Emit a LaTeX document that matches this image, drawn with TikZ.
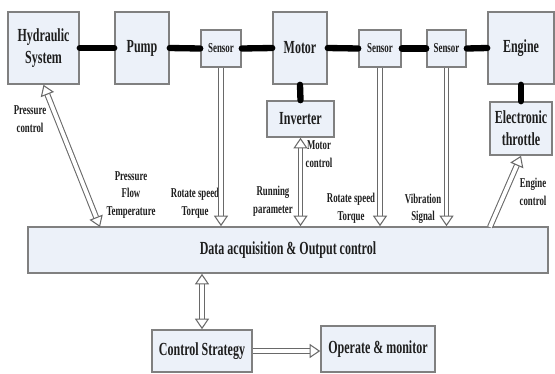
\documentclass[tikz,border=0pt]{standalone}
\usepackage{fontspec}
\setmainfont{Liberation Serif}[FakeStretch=0.65]
\usetikzlibrary{arrows.meta}
\definecolor{boxfill}{RGB}{236,241,249}
\definecolor{boxline}{RGB}{128,128,128}
\definecolor{arrline}{RGB}{105,105,105}
\definecolor{inkcol}{RGB}{30,30,30}

\begin{document}
\begin{tikzpicture}[x=0.02cm, y=-0.02cm,
    blk/.style={draw=boxline, fill=boxfill, line width=0.9pt, inner sep=0pt, align=center, text=inkcol, font=\fontsize{10.5}{12.5}\selectfont\bfseries},
    sensor/.style={blk, font=\fontsize{7.8}{9}\selectfont\bfseries},
    lbl/.style={align=center, inner sep=0pt, text=inkcol, font=\fontsize{7.7}{10}\selectfont\bfseries},
    shaft/.style={line width=3.6pt, line cap=round},
    sig/.style={draw=arrline, double=white, double distance=2.2pt, line width=0.6pt, -{Triangle[open, fill=white, length=6pt, width=8pt]}},
    sigboth/.style={sig, {Triangle[open, fill=white, length=6pt, width=8pt]}-{Triangle[open, fill=white, length=6pt, width=8pt]}}
]
    \useasboundingbox (0,0) rectangle (555,373);

    % Nodes
    \node[blk, minimum width=1.42cm, minimum height=1.44cm] at (43.5, 48)  (hyd)    {Hydraulic\\System};
    \node[blk, minimum width=1.08cm, minimum height=1.44cm] at (142, 48)   (pump)   {Pump};
    \node[sensor, minimum width=0.8cm, minimum height=0.74cm] at (221, 48.5)  (sen1)  {Sensor};
    \node[blk, minimum width=1.08cm, minimum height=1.44cm] at (300, 48)   (motor)  {Motor};
    \node[sensor, minimum width=0.84cm, minimum height=0.74cm] at (380, 48.5)  (sen2) {Sensor};
    \node[sensor, minimum width=0.78cm, minimum height=0.74cm] at (446.5, 48.5) (sen3) {Sensor};
    \node[blk, minimum width=1.32cm, minimum height=1.44cm] at (521, 48)   (engine) {Engine};
    \node[blk, minimum width=1.34cm, minimum height=0.72cm] at (300.5, 119) (inv)   {Inverter};
    \node[blk, minimum width=1.24cm, minimum height=1.06cm] at (521, 128.5) (thr)   {Electronic\\throttle};
    \node[blk, minimum width=10.4cm, minimum height=0.92cm] at (288, 250)  (daq)    {Data acquisition \& Output control};
    \node[blk, minimum width=2.0cm, minimum height=0.84cm]  at (202, 351)  (ctrl)   {Control Strategy};
    \node[blk, minimum width=2.28cm, minimum height=0.92cm] at (378, 349)  (oper)   {Operate \& monitor};

    % Labels
    \node[lbl] at (30, 119)  (lpc)  {Pressure\\control};
    \node[lbl] at (131, 195) (lpft) {Pressure\\Flow\\Temperature};
    \node[lbl] at (195, 203) (lrt1) {Rotate speed\\Torque};
    \node[lbl] at (273, 201) (lrun) {Running\\parameter};
    \node[lbl] at (319, 154) (lmc)  {Motor\\control};
    \node[lbl] at (351, 208) (lrt2) {Rotate speed\\Torque};
    \node[lbl] at (423, 209) (lvib) {Vibration\\Signal};
    \node[lbl] at (533, 192) (lec)  {Engine\\control};

    \coordinate (daqP) at (100, 227);
    \coordinate (daqE) at (490, 227);

    % Shafts
    \draw[shaft] (hyd.east) -- (pump.west);
    \draw[shaft] (pump.east) -- (sen1.west);
    \draw[shaft] (sen1.east) -- (motor.west);
    \draw[shaft] (motor.east) -- (sen2.west);
    \draw[shaft] (sen2.east) -- (sen3.west);
    \draw[shaft] (sen3.east) -- (engine.west);
    \draw[shaft] (motor.south) -- (inv.north);
    \draw[shaft] (engine.south) -- (thr.north);

    % Signals
    \draw[sigboth] (hyd.south) -- (daqP);
    \draw[sig] (sen1.south) -- (sen1.south |- daq.north);
    \draw[sigboth] (inv.south) -- (inv.south |- daq.north);
    \draw[sig] (sen2.south) -- (sen2.south |- daq.north);
    \draw[sig] (sen3.south) -- (sen3.south |- daq.north);
    \draw[sig] (daqE) -- (thr.south);
    \draw[sigboth] (daq.south -| ctrl.north) -- (ctrl.north);
    \draw[sig] (ctrl.east) -- (ctrl.east -| oper.west);

  \end{tikzpicture}
\end{document}
